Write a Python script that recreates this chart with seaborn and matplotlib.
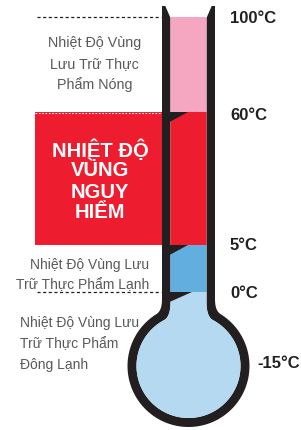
import numpy as np
import matplotlib
matplotlib.use("Agg")
import matplotlib.pyplot as plt
from matplotlib.patches import Polygon, Rectangle
import seaborn as sns

# ---- data ----
temps = [100, 60, 5, 0, -15]
temp_labels = [f"{t}°C" for t in temps]
zone_ranges = [(100, 60), (60, 5), (5, 0), (0, -15)]
zone_colors = ["#f5a7c1", "#ed1c2e", "#62aede", "#b5d9f1"]
hot_lines = ["Nhiệt Độ Vùng", "Lưu Trữ Thực", "Phẩm Nóng"]
danger_lines = ["NHIỆT ĐỘ", "VÙNG", "NGUY", "HIỂM"]
cold_lines = ["Nhiệt Độ Vùng Lưu", "Trữ Thực Phẩm Lạnh"]
frozen_lines = ["Nhiệt Độ Vùng Lưu", "Trữ Thực Phẩm", "Đông Lạnh"]

# ---- layout (pixel space) ----
W, H = 301, 430
scale_t = [-15, 0, 5, 60, 100]
scale_y = [363, 292, 245, 112, 17]
CX, CY = 188.5, 366
INK = "#231f20"
GREY = "#58595b"


def y_of(t):
    return float(np.interp(t, scale_t, scale_y))


def bezier(p0, p1, p2, p3, n=20):
    s = np.linspace(0, 1, n)[:, None]
    p0, p1, p2, p3 = map(np.array, (p0, p1, p2, p3))
    return (1 - s) ** 3 * p0 + 3 * (1 - s) ** 2 * s * p1 + 3 * (1 - s) * s ** 2 * p2 + s ** 3 * p3


def outline(half, r, neck_y, phi0, top):
    ph = np.radians(phi0)
    p3 = (CX + r * np.cos(ph), CY - r * np.sin(ph))
    k = 6
    p2 = (p3[0] + k * np.sin(ph), p3[1] + k * np.cos(ph))
    left = bezier((CX - half, neck_y), (CX - half, neck_y + 7), p2, p3)
    phis = np.radians(np.linspace(phi0, 540 - phi0, 120))
    arc = np.column_stack([CX + r * np.cos(phis), CY - r * np.sin(phis)])
    right = left[::-1].copy()
    right[:, 0] = 2 * CX - right[:, 0]
    return np.vstack([top[: len(top) // 2], left, arc, right, top[len(top) // 2:]])


sns.set_theme(style="white")
plt.rcParams["font.family"] = ["Liberation Sans", "DejaVu Sans"]

fig = plt.figure(figsize=(W / 100, H / 100), dpi=100)
ax = fig.add_axes([0, 0, 1, 1])
ax.set_xlim(0, W)
ax.set_ylim(H, 0)
ax.axis("off")

# danger box
y60, y5 = y_of(60), y_of(5)
ax.add_patch(Rectangle((35, y60), 128, y5 - y60, color=zone_colors[1], lw=0, zorder=1))
for yy in (y60 + 0.5, y5 - 0.5):
    ax.plot([35, 162], [yy, yy], color="white", lw=0.8, ls=(0, (1.5, 1.5)), zorder=1.5)

# guide lines
for t in (100, 0):
    ax.plot([37, 161], [y_of(t), y_of(t)], color=INK, lw=0.9, ls=(0, (2.5, 2)), zorder=1)

# thermometer body
outer_top = np.array([(CX - 26.5, 6), (CX + 26.5, 6)])
inner_top = np.array([(CX - 24.5, 3), (CX - 18, 18), (CX + 18, 18), (CX + 24.5, 3)])
outer = Polygon(outline(26.5, 61, 298, 122, outer_top), closed=True, color=INK, lw=0, zorder=2)
inner = Polygon(outline(18, 52, 302, 118, inner_top), closed=True, color="white", lw=0, zorder=3)
ax.add_patch(outer)
ax.add_patch(inner)

for (t_hi, t_lo), c in zip(zone_ranges, zone_colors):
    top = y_of(t_hi)
    bot = y_of(t_lo) if t_lo != temps[-1] else H
    bars = ax.bar(CX, bot - top, bottom=top, width=140, color=c, lw=0, zorder=4)
    for b in bars:
        b.set_clip_path(inner)

# divider wedges
for t, tip in zip((60, 5, 0), (188, 188, 192)):
    y = y_of(t)
    ax.add_patch(Polygon([(CX - 19, y), (CX - 19, y + 10), (tip, y)], closed=True,
                         color=INK, lw=0, zorder=5))

# temperature labels
label_x = [230, 230, 230, 230, 257]
label_dy = [1.5, 4, 1, 1, 0]
for t, lab, lx, dy in zip(temps, temp_labels, label_x, label_dy):
    ax.text(lx, y_of(t) + dy, lab, ha="left", va="center", fontsize=12,
            fontweight="bold", color=INK, zorder=6)

# zone texts
for i, line in enumerate(hot_lines):
    ax.text(94.5, 43 + i * 21, line, ha="center", va="center", fontsize=10.3, color=GREY)
for i, line in enumerate(danger_lines):
    ax.text(100, 150 + i * 21, line, ha="center", va="center", fontsize=14.5,
            fontweight="bold", color="white", zorder=6)
for i, line in enumerate(cold_lines):
    ax.text(149, 265 + i * 20, line, ha="right", va="center", fontsize=10, color=GREY)
for i, line in enumerate(frozen_lines):
    ax.text(20, 323 + i * 21, line, ha="left", va="center", fontsize=10, color=GREY)

fig.savefig("out.png", dpi=100)
